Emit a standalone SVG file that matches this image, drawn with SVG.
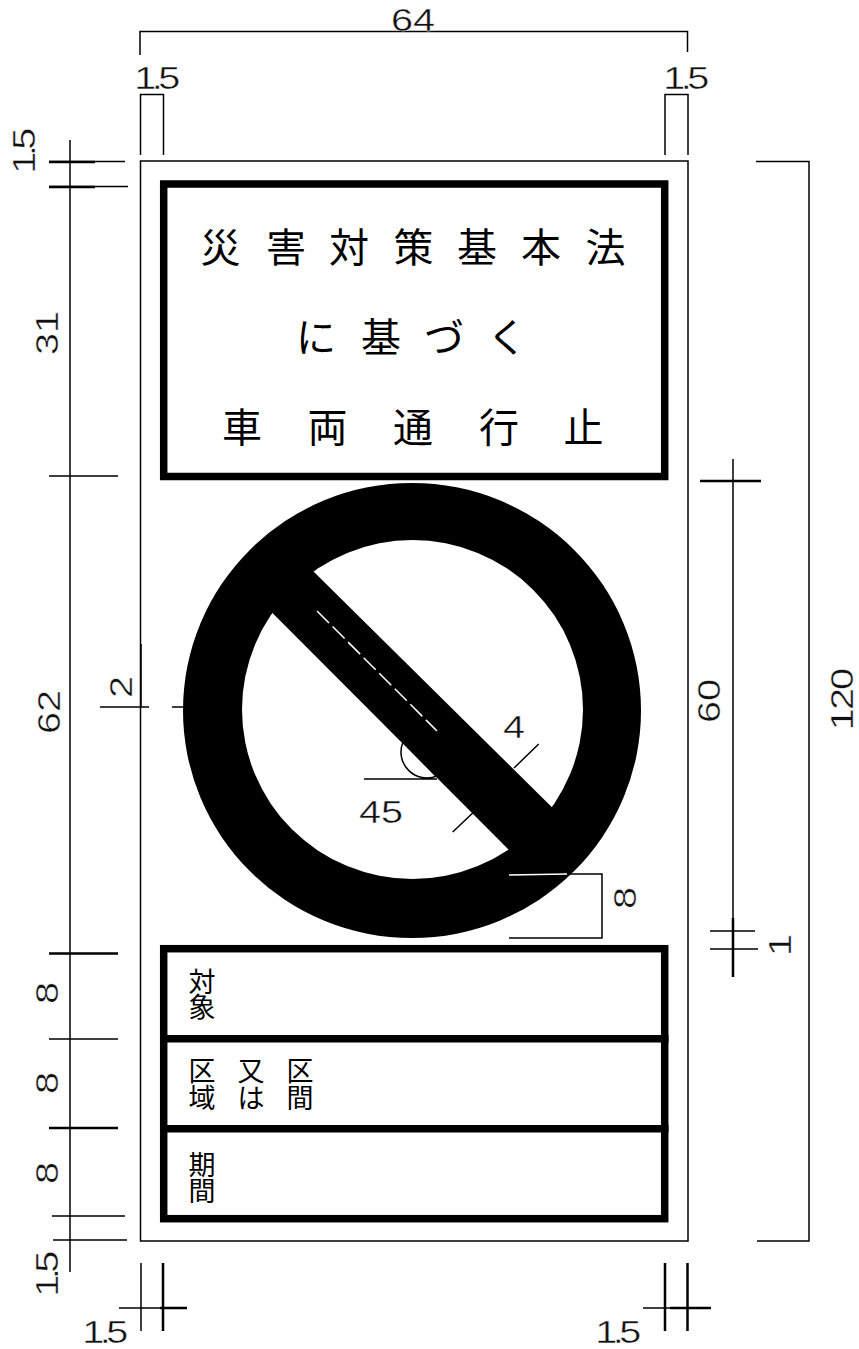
<svg xmlns="http://www.w3.org/2000/svg" width="859" height="1349" viewBox="0 0 859 1349">
<style>
.l{stroke:#000;stroke-width:1.5;fill:none}
.m{stroke:#000;stroke-width:2.5;fill:none}
.p{stroke:#000;stroke-width:7.5;fill:#fff}
.d{font-family:"Liberation Sans",Arial,sans-serif;font-size:31px;fill:#111;stroke:#fff;stroke-width:.4;text-anchor:middle}
.n{letter-spacing:-3.5px}
.j{font-family:"Noto Sans CJK JP",sans-serif;font-weight:400;fill:#000;text-anchor:middle}
.t{font-size:40px}
.s{font-size:27px}
</style>
<rect width="859" height="1349" fill="#fff"/>
<g id="plate"><rect class="l" x="140.5" y="161" width="547.5" height="1080"/></g>
<g id="title-panel">
<rect class="p" x="163.7" y="184" width="501" height="292.5"/>
<text class="j t" lang="ja" y="262" x="220.5 286 349 413.5 477 541 605.5">災害対策基本法</text>
<text class="j t" lang="ja" y="352" x="316 381 444 507">に基づく</text>
<text class="j t" lang="ja" y="442" x="242 327.5 413 499 583.5">車両通行止</text>
</g>
<g id="no-entry-sign">
<ellipse cx="412" cy="710.5" rx="229" ry="227.5" fill="#000"/>
<ellipse cx="412.5" cy="709.5" rx="170.5" ry="169.5" fill="#fff"/>
<polygon points="272.7,613.3 250,590.6 291,549 314,572 551.7,807 572,827 530,871 508,849" fill="#000"/>
<line x1="317" y1="611" x2="437" y2="731" stroke="#fff" stroke-width="1.5" stroke-dasharray="17 5"/>
</g>
<g id="info-panel">
<rect class="p" x="163.7" y="948.7" width="501" height="270"/>
<line class="p" x1="160" y1="1038.7" x2="668.5" y2="1038.7"/>
<line class="p" x1="160" y1="1128.7" x2="668.5" y2="1128.7"/>
<g class="j s" lang="ja">
<text x="202" y="992">対<tspan x="202" dy="25">象</tspan></text>
<text x="202" y="1081">区<tspan x="202" dy="27">域</tspan></text>
<text x="251" y="1081">又<tspan x="251" dy="27">は</tspan></text>
<text x="300" y="1081">区<tspan x="300" dy="27">間</tspan></text>
<text x="202" y="1175">期<tspan x="202" dy="26">間</tspan></text>
</g>
</g>
<g id="connectors">
<path class="l" d="M140 55V31.5H687.5V52"/>
<path class="l" d="M140.5 155V94.5H163.5V155"/>
<path class="l" d="M665 155V94.5H688V155"/>
<path class="l" d="M70 140V1272"/>
<path class="l" d="M49 161.5H125M49 186.5H128"/>
<path class="m" d="M49 162H95M49 187H95"/>
<path class="l" d="M49 476H118M49 1039H118M52 1216H125M53 1240H127"/>
<path class="m" d="M49 953.5H118M49 1128H118"/>
<path class="l" d="M756 161.5H809V1241H757"/>
<path class="l" d="M733 459V918M710 931H755M710 949H758"/>
<path class="m" d="M700 481H761M733 918V977"/>
<path class="l" d="M141 1263V1331M119 1308H165"/>
<path class="m" d="M163 1263V1331M665 1263V1331M687.5 1263V1331M160 1308H187M670 1308H711"/>
<path class="l" d="M643 1308H670"/>
<path class="l" d="M100 707H149M172 707H183"/>
<path class="l" d="M141 644V707"/>
<path class="l" d="M364 779H437M403 742A26 26 0 0 0 437 776M403 742L436 776"/>
<path class="l" d="M514 768L538.7 744M472.7 813L452.7 832"/>
<line x1="509" y1="875" x2="567" y2="874" stroke="#fff" stroke-width="1.5"/>
<path class="l" d="M567 874H602V938H509"/>
</g>
<g id="dimension-labels">
<text class="d" transform="translate(413 31) scale(1.28 1)">64</text>
<text class="d n" transform="translate(155 89) scale(1.28 1)">1.5</text>
<text class="d n" transform="translate(684 89) scale(1.28 1)">1.5</text>
<text class="d n" transform="translate(103 1343) scale(1.28 1)">1.5</text>
<text class="d n" transform="translate(616 1343) scale(1.28 1)">1.5</text>
<text class="d" transform="translate(381 823) scale(1.28 1)">45</text>
<text class="d" transform="translate(514 738) scale(1.28 1)">4</text>
<text class="d n" transform="translate(35 153) rotate(-90) scale(1.28 1)">1.5</text>
<text class="d" transform="translate(58 333) rotate(-90) scale(1.28 1)">31</text>
<text class="d" transform="translate(60 712) rotate(-90) scale(1.28 1)">62</text>
<text class="d" transform="translate(58 993) rotate(-90) scale(1.28 1)">8</text>
<text class="d" transform="translate(58 1083) rotate(-90) scale(1.28 1)">8</text>
<text class="d" transform="translate(58 1173) rotate(-90) scale(1.28 1)">8</text>
<text class="d n" transform="translate(58 1276) rotate(-90) scale(1.28 1)">1.5</text>
<text class="d" transform="translate(132 687) rotate(-90) scale(1.28 1)">2</text>
<text class="d" transform="translate(720 701) rotate(-90) scale(1.28 1)">60</text>
<text class="d" style="letter-spacing:-1.5px" transform="translate(852.5 700) rotate(-90) scale(1.28 1)">120</text>
<text class="d" transform="translate(636 898) rotate(-90) scale(1.28 1)">8</text>
<text class="d" transform="translate(791 945) rotate(-90) scale(1.28 1)">1</text>
</g>
</svg>
